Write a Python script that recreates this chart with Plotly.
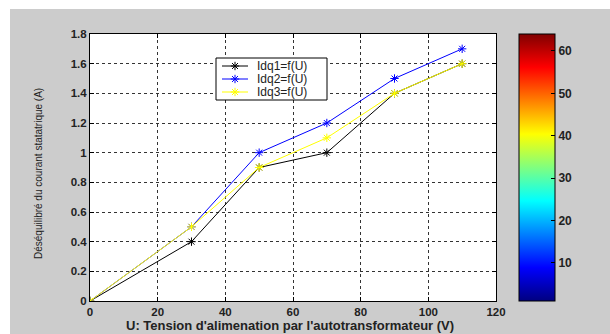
import plotly.graph_objects as go

# Measured data
u_volts = [0, 30, 50, 70, 90, 110]
idq1 = [0, 0.4, 0.9, 1.0, 1.4, 1.6]
idq2 = [0, 0.5, 1.0, 1.2, 1.5, 1.7]
idq3 = [0, 0.5, 0.9, 1.1, 1.4, 1.6]

series_names = ["Idq1=f(U)", "Idq2=f(U)", "Idq3=f(U)"]
series_colors = ["#000000", "#0000ff", "#ffff00"]

x_ticks = [0, 20, 40, 60, 80, 100, 120]
y_ticks = [0, 0.2, 0.4, 0.6, 0.8, 1.0, 1.2, 1.4, 1.6, 1.8]
y_ticktext = ["0", "0.2", "0.4", "0.6", "0.8", "1", "1.2", "1.4", "1.6", "1.8"]
cbar_ticks = [10, 20, 30, 40, 50, 60]

x_title = "U: Tension d'alimenation par l'autotransformateur (V)"
y_title = "Déséquilibré du courant statatrique (A)"

# Jet colormap stops
jet = [
    [0.0, "rgb(0,0,128)"],
    [0.125, "rgb(0,0,255)"],
    [0.375, "rgb(0,255,255)"],
    [0.625, "rgb(255,255,0)"],
    [0.875, "rgb(255,0,0)"],
    [1.0, "rgb(128,0,0)"],
]

FONT = "Liberation Sans, Arial, sans-serif"
TXT = "#222"
TICK_FONT = dict(family=FONT, size=11.5, color=TXT, weight="bold")

W, H = 610, 334
L, R, T, B = 90, 114, 34, 33
X_RANGE = [0, 120]
Y_RANGE = [0, 1.8]

fig = go.Figure()
for name, ys, col in zip(series_names, [idq1, idq2, idq3], series_colors):
    fig.add_trace(go.Scatter(
        x=u_volts, y=ys, name=name, mode="lines+markers", showlegend=False,
        line=dict(color=col, width=1),
        marker=dict(symbol="asterisk-open", size=7, color=col,
                    line=dict(color=col, width=1)),
    ))

# colour scale bar
fig.add_trace(go.Scatter(
    x=[0], y=[0], mode="markers", showlegend=False, hoverinfo="skip",
    marker=dict(size=1, opacity=0, color=[1], cmin=1, cmax=64,
                colorscale=jet, showscale=True,
                colorbar=dict(
                    x=(519 - L) / (W - L - R), xanchor="left", xpad=0, ypad=0,
                    y=0.5, yanchor="middle", len=1, lenmode="fraction",
                    thickness=36, thicknessmode="pixels",
                    outlinecolor="black", outlinewidth=1,
                    tickvals=cbar_ticks, ticks="inside", ticklen=4,
                    tickcolor="black",
                    tickfont=dict(family=FONT, size=12, color=TXT,
                                  weight="bold"),
                )),
))

# --- legend box, drawn in a pixel-space overlay (x2/y2) ---
leg_x0, leg_x1, leg_y0, leg_y1 = 216, 327, 58, 100
leg_rows = [66, 79, 92]
sample_x = [222, 235, 248]
text_x = 256

for name, col, ry in zip(series_names, series_colors, leg_rows):
    fig.add_trace(go.Scatter(
        x=sample_x, y=[ry] * 3, xaxis="x2", yaxis="y2",
        mode="lines", showlegend=False, hoverinfo="skip",
        line=dict(color=col, width=1),
    ))
    fig.add_trace(go.Scatter(
        x=[sample_x[1]], y=[ry], xaxis="x2", yaxis="y2",
        mode="markers", showlegend=False, hoverinfo="skip",
        marker=dict(symbol="asterisk-open", size=7, color=col,
                    line=dict(color=col, width=1)),
    ))

annotations = [
    dict(x=text_x, y=ry, xref="x2", yref="y2", text=name, showarrow=False,
         xanchor="left", yanchor="middle", borderpad=0,
         font=dict(family=FONT, size=12, color=TXT))
    for name, ry in zip(series_names, leg_rows)
]


def px_to_data_x(p):
    return X_RANGE[0] + (p - L) / (W - L - R) * (X_RANGE[1] - X_RANGE[0])


def px_to_data_y(p):
    return Y_RANGE[0] + (H - B - p) / (H - T - B) * (Y_RANGE[1] - Y_RANGE[0])


def px_x(p):
    return (p - L) / (W - L - R)


def px_y(p):
    return (H - B - p) / (H - T - B)


# axis titles
annotations += [
    dict(x=px_x(290), y=px_y(325), xref="paper", yref="paper",
         text=x_title, showarrow=False, xanchor="center", yanchor="middle",
         borderpad=0,
         font=dict(family=FONT, size=13, color=TXT, weight="bold")),
    dict(x=px_x(39), y=px_y(173), xref="paper", yref="paper",
         text=y_title, showarrow=False, xanchor="center", yanchor="middle",
         textangle=-90, borderpad=0,
         font=dict(family=FONT, size=10, color=TXT)),
]

shapes = [
    # white strips at top and left of the figure frame
    dict(type="rect", xref="paper", yref="paper",
         x0=px_x(0), x1=px_x(W), y0=px_y(9), y1=px_y(0),
         fillcolor="white", line=dict(width=0), layer="below"),
    dict(type="rect", xref="paper", yref="paper",
         x0=px_x(0), x1=px_x(10), y0=px_y(H), y1=px_y(0),
         fillcolor="white", line=dict(width=0), layer="below"),
    # legend frame: above the grid, below the curves
    dict(type="rect", xref="x", yref="y",
         x0=px_to_data_x(leg_x0), x1=px_to_data_x(leg_x1),
         y0=px_to_data_y(leg_y1), y1=px_to_data_y(leg_y0),
         fillcolor="white", line=dict(color="black", width=1),
         layer="between"),
]

fig.update_layout(
    width=W, height=H,
    margin=dict(l=L, r=R, t=T, b=B, pad=0),
    paper_bgcolor="#cccccc",
    plot_bgcolor="white",
    font=dict(family=FONT, size=12, color=TXT),
    showlegend=False,
    shapes=shapes,
    annotations=annotations,
    xaxis=dict(
        range=X_RANGE, tickvals=x_ticks, ticks="inside", ticklen=4,
        tickcolor="black", showline=True, linecolor="black", linewidth=1,
        mirror="ticks", showgrid=True, gridcolor="#333",
        griddash="3px,3px", gridwidth=1, zeroline=False, automargin=False,
        tickfont=TICK_FONT,
    ),
    yaxis=dict(
        range=Y_RANGE, tickvals=y_ticks, ticktext=y_ticktext,
        ticks="inside", ticklen=4, tickcolor="black",
        showline=True, linecolor="black", linewidth=1, mirror="ticks",
        showgrid=True, gridcolor="#333", griddash="3px,3px", gridwidth=1,
        zeroline=False, automargin=False,
        tickfont=TICK_FONT,
    ),
    xaxis2=dict(overlaying="x", anchor="y2", range=[L, W - R],
                visible=False, fixedrange=True),
    yaxis2=dict(overlaying="y", anchor="x2", range=[H - B, T],
                visible=False, fixedrange=True),
)

fig.write_html("out.html")
